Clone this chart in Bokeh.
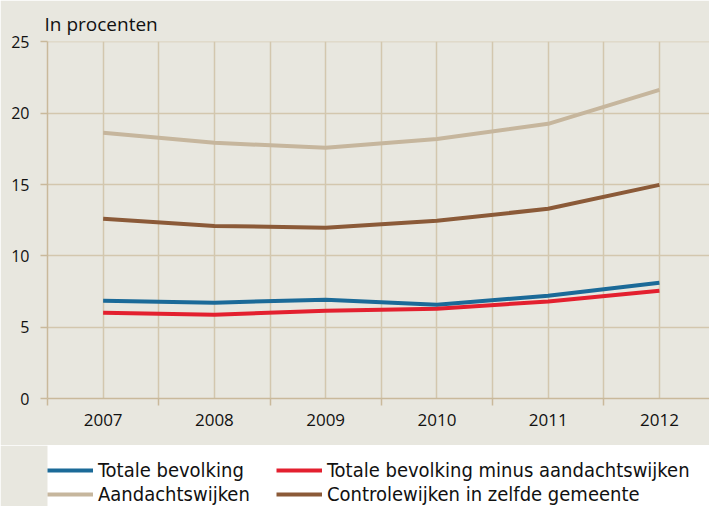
from bokeh.plotting import figure
from bokeh.layouts import column
from bokeh.models import FixedTicker, Legend, LegendItem
from bokeh.embed import file_html
from bokeh.resources import INLINE

years = [2007, 2008, 2009, 2010, 2011, 2012]
totale = [6.86, 6.72, 6.93, 6.58, 7.2, 8.12]
totale_minus = [6.02, 5.88, 6.16, 6.3, 6.8, 7.56]
aandacht = [18.63, 17.93, 17.58, 18.2, 19.26, 21.64]
controle = [12.6, 12.1, 11.97, 12.46, 13.3, 14.98]
y_ticks = [0, 5, 10, 15, 20, 25]
boundaries = [2006.5, 2007.5, 2008.5, 2009.5, 2010.5, 2011.5]
names = ["Totale bevolking", "Totale bevolking minus aandachtswijken",
         "Aandachtswijken", "Controlewijken in zelfde gemeente"]
colors = ["#1b6a98", "#e3202f", "#c6b69d", "#8b5a38"]

BG = "#e8e7df"
GRID = "#d3c7ae"
AXIS = "#c9b99b"
FONT = "Open Sans"
LFONT = "DejaVu Sans Condensed"

p = figure(width=709, height=445, output_backend="svg", toolbar_location=None,
           x_range=(2006.5, 2012.45), y_range=(0, 25.03),
           background_fill_color=BG, border_fill_color=BG,
           min_border_left=47, min_border_right=0, min_border_top=41,
           min_border_bottom=47)
p.outline_line_color = None
p.title.text = "In procenten"
p.title.text_font = FONT
p.title.text_font_size = "19px"
p.title.text_font_style = "normal"
p.title.text_color = "#111111"
p.title.align = "left"
p.title.offset = -3
p.title.standoff = 10

p.xaxis.ticker = FixedTicker(ticks=years, minor_ticks=boundaries)
p.xaxis.major_tick_out = 0
p.xaxis.major_tick_in = 0
p.xaxis.minor_tick_out = 7
p.xaxis.minor_tick_in = 0
p.xaxis.minor_tick_line_color = AXIS
p.xaxis.minor_tick_line_width = 1.5
p.xaxis.axis_line_color = AXIS
p.xaxis.axis_line_width = 1.5
p.xaxis.major_label_text_font = FONT
p.xaxis.major_label_text_font_size = "17px"
p.xaxis.major_label_text_color = "#111111"
p.xaxis.major_label_standoff = 8

p.yaxis.ticker = FixedTicker(ticks=y_ticks)
p.yaxis.minor_tick_line_color = None
p.yaxis.major_tick_out = 7
p.yaxis.major_tick_in = 0
p.yaxis.major_tick_line_color = AXIS
p.yaxis.major_tick_line_width = 1.5
p.yaxis.axis_line_color = AXIS
p.yaxis.axis_line_width = 1.5
p.yaxis.major_label_text_font = FONT
p.yaxis.major_label_text_font_size = "16px"
p.yaxis.major_label_text_color = "#111111"
p.yaxis.major_label_standoff = 11

p.xgrid.ticker = FixedTicker(ticks=years, minor_ticks=boundaries)
p.xgrid.grid_line_color = GRID
p.xgrid.grid_line_width = 1.5
p.xgrid.minor_grid_line_color = GRID
p.xgrid.minor_grid_line_width = 1.5
p.ygrid.ticker = FixedTicker(ticks=y_ticks)
p.ygrid.grid_line_color = GRID
p.ygrid.grid_line_width = 1.5

for vals, col in zip([totale, totale_minus, aandacht, controle], colors):
    p.line(years, vals, line_color=col, line_width=4)

# legend strip below the chart
q = figure(width=709, height=61, output_backend="svg", toolbar_location=None,
           x_range=(0, 1), y_range=(0, 1),
           background_fill_color=None, border_fill_color=BG,
           min_border=0)
q.outline_line_color = None
q.axis.visible = False
q.grid.visible = False
items = []
for name, col in zip(names, colors):
    # legend-only renderers, kept outside the visible range
    r = q.line([5, 6], [5, 6], line_color=col, line_width=4)
    items.append(LegendItem(label=name, renderers=[r]))

common = dict(orientation="vertical", glyph_width=46, glyph_height=20,
              label_standoff=5, spacing=0, padding=0, margin=0,
              label_text_font=LFONT, label_text_font_size="20px",
              label_text_color="#111111", label_height=24,
              background_fill_alpha=0, border_line_color=None)
leg1 = Legend(items=[items[0], items[2]], location=(0, 0), **common)
leg2 = Legend(items=[items[1], items[3]], location=(229, 0), **common)
q.add_layout(leg1, "center")
q.add_layout(leg2, "center")

layout = column(p, q, spacing=0)
open("out.html", "w").write(file_html(layout, INLINE))
